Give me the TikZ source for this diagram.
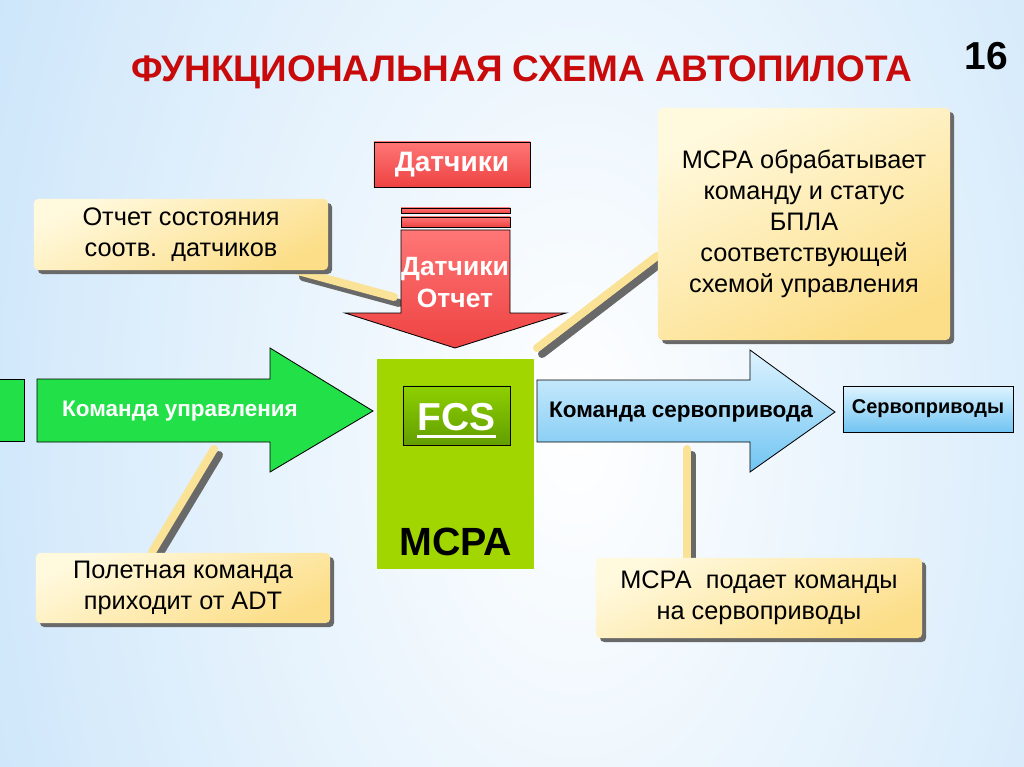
\documentclass[tikz,border=0pt]{standalone}
\usepackage{fontspec}
\setmainfont{Liberation Sans}
\usetikzlibrary{shadows}
\definecolor{bgblue}{RGB}{165,210,246}
\definecolor{titlered}{RGB}{200,10,10}
\definecolor{redtop}{RGB}{255,118,118}
\definecolor{redbot}{RGB}{238,66,66}
\definecolor{arrgreen}{RGB}{34,224,72}
\definecolor{limegreen}{RGB}{162,214,0}
\definecolor{fcstop}{RGB}{142,208,0}
\definecolor{fcsbot}{RGB}{98,158,0}
\definecolor{bluetop}{RGB}{222,243,255}
\definecolor{bluebot}{RGB}{112,196,242}
\definecolor{calltop}{RGB}{255,249,222}
\definecolor{callbot}{RGB}{252,222,136}
\definecolor{connyel}{RGB}{250,226,150}
\definecolor{shadowgray}{RGB}{105,105,105}
\newcommand\myfs[2]{\fontsize{#1}{#2}\selectfont}
\tikzset{
  callout/.style={rounded corners=3pt, top color=calltop, bottom color=callbot,
    shading angle=25, inner sep=0pt, align=center, text=black,
    font=\myfs{18}{22},
    drop shadow={shadow xshift=0.1cm, shadow yshift=-0.1cm, fill=shadowgray, opacity=1}},
  connline/.style={line width=0.2cm, connyel, line cap=round},
  connshadow/.style={line width=0.2cm, shadowgray, line cap=round},
  redshape/.style={draw=black, line width=0.6pt, top color=redtop, bottom color=redbot},
  blueshape/.style={draw=black, line width=0.6pt, top color=bluetop, bottom color=bluebot},
  greenshape/.style={draw=black, line width=0.6pt, fill=arrgreen},
  arrtxt/.style={font=\myfs{16}{20}\bfseries, inner sep=0pt},
}
\begin{document}
\begin{tikzpicture}[x=0.025cm,y=-0.025cm]
\useasboundingbox (0,0) rectangle (1024,767);
% background
\fill[bgblue] (0,0) rectangle (1024,767);
\begin{scope}
  \clip (0,0) rectangle (1024,767);
  \shade[inner color=white, outer color=bgblue] (575,430) ellipse [x radius=1150, y radius=1900];
\end{scope}

% title and page number
\node[font=\myfs{26.3}{30}\bfseries, text=titlered, anchor=base, inner sep=0pt] (title) at (522,82) {ФУНКЦИОНАЛЬНАЯ СХЕМА АВТОПИЛОТА};
\node[font=\myfs{27.7}{32}\bfseries, anchor=base, inner sep=0pt] (pagenum) at (986,70) {16};

% connectors (callout leaders)
\coordinate (k1a) at (298,271);
\coordinate (k1b) at (394,297);
\coordinate (k2a) at (152,552);
\coordinate (k2b) at (214,449);
\coordinate (k3a) at (657,256);
\coordinate (k3b) at (537,348);
\coordinate (k4a) at (687,558);
\coordinate (k4b) at (687,449);
\foreach \a/\b in {k1a/k1b, k2a/k2b, k3a/k3b, k4a/k4b}{
  \draw[connshadow] ([shift={(5,6)}]\a) -- ([shift={(5,6)}]\b);
  \draw[connline] (\a) -- (\b);
}

% sensors box and red arrow
\node[redshape, minimum width=3.9cm, minimum height=1.125cm, inner sep=0pt,
      font=\myfs{20}{24}\bfseries, text=white] (sensors) at (452,164.5) {Датчики};
\draw[redshape] (401,208) rectangle (510,213);
\draw[redshape] (401,217) rectangle (510,227);
\draw[redshape] (401,230) -- (510,230) -- (510,313) -- (566,313) -- (455,348)
      -- (345,313) -- (401,313) -- cycle;
\node[font=\myfs{18.8}{22.8}\bfseries, text=white, align=center, inner sep=0pt] (senstxt) at (455,283) {Датчики\\Отчет};

% green command arrow
\draw[greenshape] (-2,379) rectangle (24,441);
\draw[greenshape] (37,379) -- (270,379) -- (270,348) -- (373,411) -- (270,472)
      -- (270,442) -- (37,442) -- cycle;
\node[arrtxt, text=white] (cmd) at (180,411) {Команда управления};

% MCPA block
\node[fill=limegreen, minimum width=3.925cm, minimum height=5.25cm, inner sep=0pt] (mcpa) at (455.5,464) {};
\node[draw=black, line width=0.6pt, top color=fcstop, bottom color=fcsbot,
      minimum width=2.675cm, minimum height=1.475cm, inner sep=0pt] (fcs) at (456.5,415.5) {};
\node[font=\myfs{27.7}{30}\bfseries, text=white, inner sep=0pt, anchor=base] (fcstxt) at (456.5,430) {FCS};
\draw[white, line width=0.07cm] ([yshift=-0.17cm]fcstxt.base west) -- ([yshift=-0.17cm]fcstxt.base east);
\node[font=\myfs{28}{30}\bfseries, inner sep=0pt] (mcpatxt) at (456,541.5) {МСРА};

% blue servo arrow
\draw[blueshape] (537,380) -- (750,380) -- (750,350) -- (835,412) -- (750,472)
      -- (750,442) -- (537,442) -- cycle;
\node[arrtxt] (servocmd) at (681,412) {Команда сервопривода};
\node[blueshape, minimum width=4.25cm, minimum height=1.15cm, inner sep=0pt,
      font=\myfs{14.2}{17}\bfseries] (servos) at (928,409) {Сервоприводы};

% callouts
\node[callout, minimum width=7.35cm, minimum height=1.775cm] (c1) at (181,234.5)
  {Отчет состояния\\соотв.\ \ датчиков};
\node[callout, minimum width=7.35cm, minimum height=1.75cm] (c2) at (183,588)
  {Полетная команда\\приходит от ADT};
\node[callout, minimum width=7.3cm, minimum height=5.8cm] (c3) at (804,224)
  {МСРА обрабатывает\\команду и статус\\БПЛА\\соответствующей\\схемой управления};
\node[callout, minimum width=8.15cm, minimum height=2cm] (c4) at (759,598)
  {МСРА\ \ подает команды\\на сервоприводы};
\end{tikzpicture}
\end{document}
